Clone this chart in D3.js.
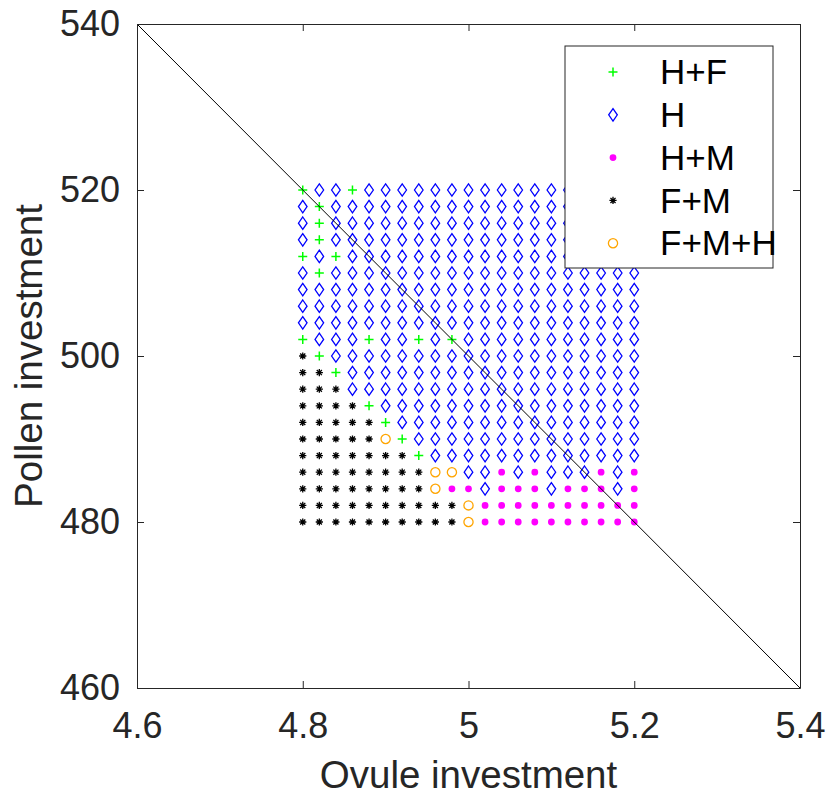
<!DOCTYPE html>
<html>
<head>
<meta charset="utf-8">
<script src="https://cdn.jsdelivr.net/npm/d3@7"></script>
<style>
  body { margin: 0; background: #fff; }
  svg { display: block; font-family: "Liberation Sans", Arial, sans-serif; }
</style>
</head>
<body>
<div id="chart"></div>
<script>
// data
const ovule = [4.80, 4.82, 4.84, 4.86, 4.88, 4.90, 4.92, 4.94, 4.96, 4.98, 5.00,
               5.02, 5.04, 5.06, 5.08, 5.10, 5.12, 5.14, 5.16, 5.18, 5.20];
const pollen = [520, 518, 516, 514, 512, 510, 508, 506, 504, 502, 500,
                498, 496, 494, 492, 490, 488, 486, 484, 482, 480];
// one string per pollen row, one letter per ovule column
// P = H+F, D = H, M = H+M, S = F+M, O = F+M+H
const outcome = [
  "PDDPDDDDDDDDDDDDDDDDD",
  "DPDDDDDDDDDDDDDDDDDDD",
  "DPDDDDDDDDDDDDDDDDDDD",
  "DPDDDDDDDDDDDDDDDDDDD",
  "PDPDDDDDDDDDDDDDDDDDD",
  "DPDDDDDDDDDDDDDDDDDDD",
  "DDDDDDDDDDDDDDDDDDDDD",
  "DDDDDDDDDDDDDDDDDDDDD",
  "DDDDDDDDDDDDDDDDDDDDD",
  "PDDDPDDPDPDDDDDDDDDDD",
  "SPDDDDDDDDDDDDDDDDDDD",
  "SSPDDDDDDDDDDDDDDDDDD",
  "SSSDDDDDDDDDDDDDDDDDD",
  "SSSSPDDDDDDDDDDDDDDDD",
  "SSSSSPDDDDDDDDDDDDDDD",
  "SSSSSOPDDDDDDDDDDDDDD",
  "SSSSSSSPDDDDDDDDDDDDD",
  "SSSSSSSSOODDMDMDDDMDM",
  "SSSSSSSSOMMDMMMDMMMDM",
  "SSSSSSSSSSOMMMMMMMMMM",
  "SSSSSSSSSSOMMMMMMMMMM"
];
const codes = ["P", "D", "M", "S", "O"];
const labels = ["H+F", "H", "H+M", "F+M", "F+M+H"];
const colors = ["#00ff00", "#0000ff", "#ff00ff", "#000000", "#ffa500"];
const xTicks = [4.6, 4.8, 5, 5.2, 5.4];
const yTicks = [460, 480, 500, 520, 540];
const diagonal = [[4.6, 540], [5.4, 460]];

//HELPERS
function marker_path(code) {
    const p = d3.path();
    if (code === "P") {
        p.moveTo(-4.5, 0); p.lineTo(4.5, 0);
        p.moveTo(0, -4.5); p.lineTo(0, 4.5);
    } else if (code === "D") {
        p.moveTo(0, -6.2); p.lineTo(4.3, 0); p.lineTo(0, 6.2); p.lineTo(-4.3, 0); p.closePath();
    } else if (code === "M") {
        p.arc(0, 0, 3.4, 0, 2 * Math.PI);
    } else if (code === "S") {
        const r = 3.6;
        for (let k = 0; k < 4; k++) {
            const a = k * Math.PI / 4;
            p.moveTo(-r * Math.cos(a), -r * Math.sin(a));
            p.lineTo(r * Math.cos(a), r * Math.sin(a));
        }
    } else {
        p.moveTo(4.6, 0);
        p.arc(0, 0, 4.6, 0, 2 * Math.PI);
    }
    return p.toString();
}
function style_marker(sel) {
    sel.attr("d", d => marker_path(d.code))
        .attr("fill", d => d.code === "M" ? colors[codes.indexOf(d.code)] : "none")
        .attr("stroke", d => d.code === "M" ? "none" : colors[codes.indexOf(d.code)])
        .attr("stroke-width", d => d.code === "P" ? 1.5 : 1.3);
}

const width = 828;
const height = 796;
const margin = ({top: 24, right: 28, bottom: 108, left: 137});
const axisColor = "#262626";

const x = d3.scaleLinear([4.6, 5.4], [margin.left, width - margin.right]);
const y = d3.scaleLinear([460, 540], [height - margin.bottom, margin.top]);

const points = [];
pollen.forEach((pv, j) => {
    ovule.forEach((ov, i) => {
        points.push({ovule: ov, pollen: pv, code: outcome[j][i]});
    });
});

const svg = d3.select("#chart")
    .append("svg")
    .attr("width", width)
    .attr("height", height)
    .attr("viewBox", [0, 0, width, height]);

svg.append("g")
    .selectAll("path")
    .data(points)
    .join("path")
        .attr("transform", d => `translate(${x(d.ovule)},${y(d.pollen)})`)
        .call(style_marker);

svg.append("path")
    .attr("d", d3.line().x(d => x(d[0])).y(d => y(d[1]))(diagonal))
    .attr("fill", "none")
    .attr("stroke", "#000")
    .attr("stroke-width", 1);

// axes, ticks pointing inward on all four sides
const tickLen = 7;
function axis_style(g) {
    g.select(".domain").attr("stroke", axisColor).attr("stroke-width", 1);
    g.selectAll(".tick line").attr("stroke", axisColor).attr("stroke-width", 1);
    g.selectAll("text").attr("fill", axisColor).style("font-size", "36px");
}
svg.append("g")
    .attr("transform", `translate(0,${height - margin.bottom})`)
    .call(d3.axisBottom(x).tickValues(xTicks).tickFormat(d3.format("")).tickSizeInner(-tickLen).tickSizeOuter(0).tickPadding(24))
    .call(axis_style);
svg.append("g")
    .attr("transform", `translate(${margin.left},0)`)
    .call(d3.axisLeft(y).tickValues(yTicks).tickFormat(d3.format("")).tickSizeInner(-tickLen).tickSizeOuter(0).tickPadding(17))
    .call(axis_style);
svg.append("g")
    .attr("transform", `translate(0,${margin.top})`)
    .call(d3.axisTop(x).tickValues(xTicks).tickFormat("").tickSizeInner(-tickLen).tickSizeOuter(0))
    .call(axis_style);
svg.append("g")
    .attr("transform", `translate(${width - margin.right},0)`)
    .call(d3.axisRight(y).tickValues(yTicks).tickFormat("").tickSizeInner(-tickLen).tickSizeOuter(0))
    .call(axis_style);

// axis titles
svg.append("text")
    .attr("x", (margin.left + width - margin.right) / 2)
    .attr("y", 788)
    .attr("text-anchor", "middle")
    .attr("fill", axisColor)
    .style("font-size", "38.5px")
    .text("Ovule investment");
svg.append("text")
    .attr("transform", `translate(42,${(margin.top + height - margin.bottom) / 2}) rotate(-90)`)
    .attr("text-anchor", "middle")
    .attr("fill", axisColor)
    .style("font-size", "38.5px")
    .text("Pollen investment");

// legend
const legend = svg.append("g").attr("transform", "translate(565,46)");
legend.append("rect")
    .attr("width", 208)
    .attr("height", 222)
    .attr("fill", "#fff")
    .attr("stroke", axisColor)
    .attr("stroke-width", 1);
const entries = legend.selectAll("g")
    .data(codes.map((c, k) => ({code: c, label: labels[k]})))
    .join("g")
        .attr("transform", (d, k) => `translate(0,${26 + k * 42.8})`);
entries.append("path")
    .attr("transform", "translate(48,0)")
    .call(style_marker);
entries.append("text")
    .attr("x", 95)
    .attr("dy", "0.35em")
    .attr("fill", "#000")
    .style("font-size", "35px")
    .text(d => d.label);
</script>
</body>
</html>
